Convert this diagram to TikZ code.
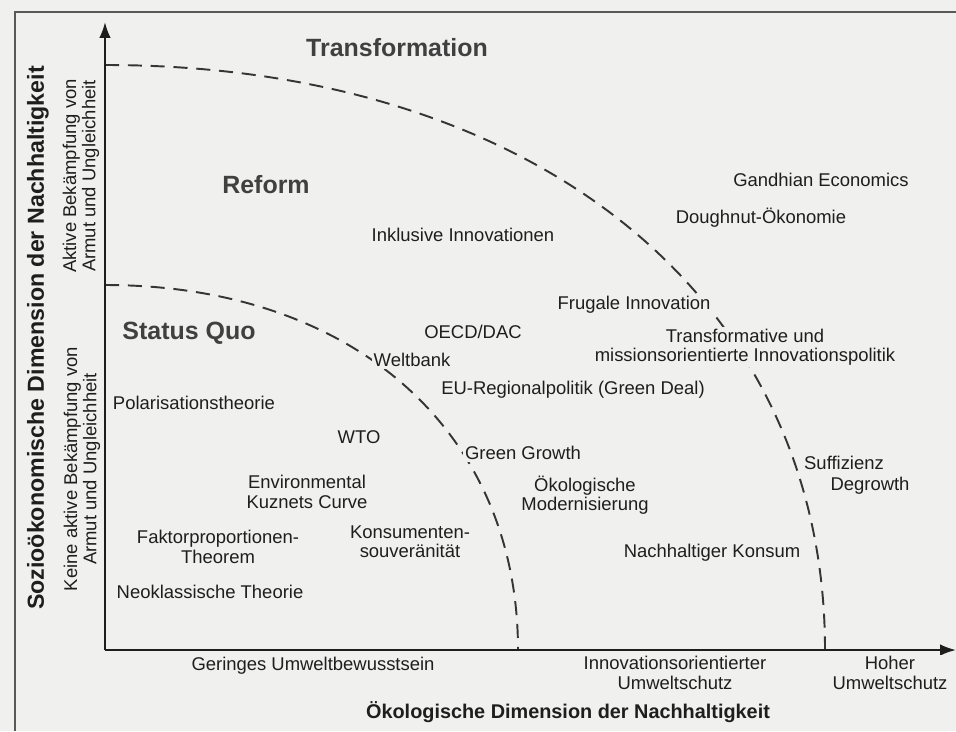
\documentclass[tikz,border=0pt]{standalone}
\usepackage{fontspec}
\setmainfont{Liberation Sans}
\usetikzlibrary{arrows.meta}

\definecolor{paper}{HTML}{F0F0EF}
\definecolor{ink}{HTML}{1E1E1E}

\begin{document}
\begin{tikzpicture}
[
 x=0.02cm, y=-0.02cm,
  >={Latex[length=9pt,width=6.5pt]},
  lbl/.style = {font=\fontsize{10.5}{11}\selectfont, text=ink, align=center, inner sep=1pt, fill=paper},
  zone/.style = {font=\fontsize{14.2}{16}\selectfont\bfseries, text=ink!85},
  title/.style = {font=\fontsize{11.3}{13}\selectfont\bfseries, text=ink},
  axis/.style = {draw=ink, line width=1.2pt},
  bound/.style = {draw=ink!90, line width=1.1pt, dash pattern=on 8pt off 5pt},
]

% page and frame
\fill[paper] (0,0) rectangle (956,731);
\useasboundingbox (0,0) rectangle (956,731);
\draw[gray!70!black, line width=1pt] (15,731) -- (15,12) -- (956,12);

\coordinate (O) at (105,650);
\coordinate (Ytip) at (105,22);
\coordinate (Xtip) at (956,650);

% zone boundaries
\coordinate (A1) at (105,285);
\coordinate (B1) at (518,650);
\coordinate (A2) at (105,65);
\coordinate (B2) at (825,650);
\draw[bound] (A1) .. controls (353,285) and (518,431) .. (B1);
\draw[bound] (A2) .. controls (537,65) and (825,299) .. (B2);

\draw[axis,->] (O) -- (Ytip);
\draw[axis,->] (O) -- (Xtip);

% zones
\node (TR) at (397,48) [zone] {Transformation};
\node (RF) at (266,185) [zone] {Reform};
\node (SQ) at (189,333) [zone] {Status Quo};

% approaches
\node (GE) at (821,180) [lbl] {Gandhian Economics};
\node (DO) at (761,218) [lbl] {Doughnut-Ökonomie};
\node (II) at (463,235) [lbl] {Inklusive Innovationen};
\node (FI) at (634,305) [lbl] {Frugale Innovation};
\node (OE) at (473,332) [lbl] {OECD/DAC};
\node (TM) at (745,347) [lbl] {Transformative und\\missionsorientierte Innovationspolitik};
\node (WB) at (412,360) [lbl] {Weltbank};
\node (EU) at (573,390) [lbl] {EU-Regionalpolitik (Green Deal)};
\node (PT) at (194,403) [lbl] {Polarisationstheorie};
\node (WT) at (359,437) [lbl] {WTO};
\node (GG) at (523,453) [lbl] {Green Growth};
\node (SU) at (844,463) [lbl] {Suffizienz};
\node (DG) at (870,486) [lbl] {Degrowth};
\node (EK) at (307,492) [lbl] {Environmental\\Kuznets Curve};
\node (OM) at (585,495) [lbl] {Ökologische\\Modernisierung};
\node (KS) at (410,542) [lbl] {Konsumenten-\\souveränität};
\node (FT) at (218,547) [lbl] {Faktorproportionen-\\Theorem};
\node (NK) at (712,553) [lbl] {Nachhaltiger Konsum};
\node (NT) at (210,592) [lbl] {Neoklassische Theorie};

% axis labels
\node (XL1) at (313,666) [lbl] {Geringes Umweltbewusstsein};
\node (XL2) at (675,673) [lbl] {Innovationsorientierter\\Umweltschutz};
\node (XL3) at (890,673) [lbl] {Hoher\\Umweltschutz};
\node (YL1) at (82,469) [lbl,rotate=90] {Keine aktive Bekämpfung von\\Armut und Ungleichheit};
\node (YL2) at (81,176) [lbl,rotate=90] {Aktive Bekämpfung von\\Armut und Ungleichheit};

\node (XT) at (568,712) [title] {Ökologische Dimension der Nachhaltigkeit};
\node (YT) at (38,338) [title,rotate=90,font=\fontsize{13.2}{15}\selectfont\bfseries] {Sozioökonomische Dimension der Nachhaltigkeit};

\end{tikzpicture}
\end{document}
